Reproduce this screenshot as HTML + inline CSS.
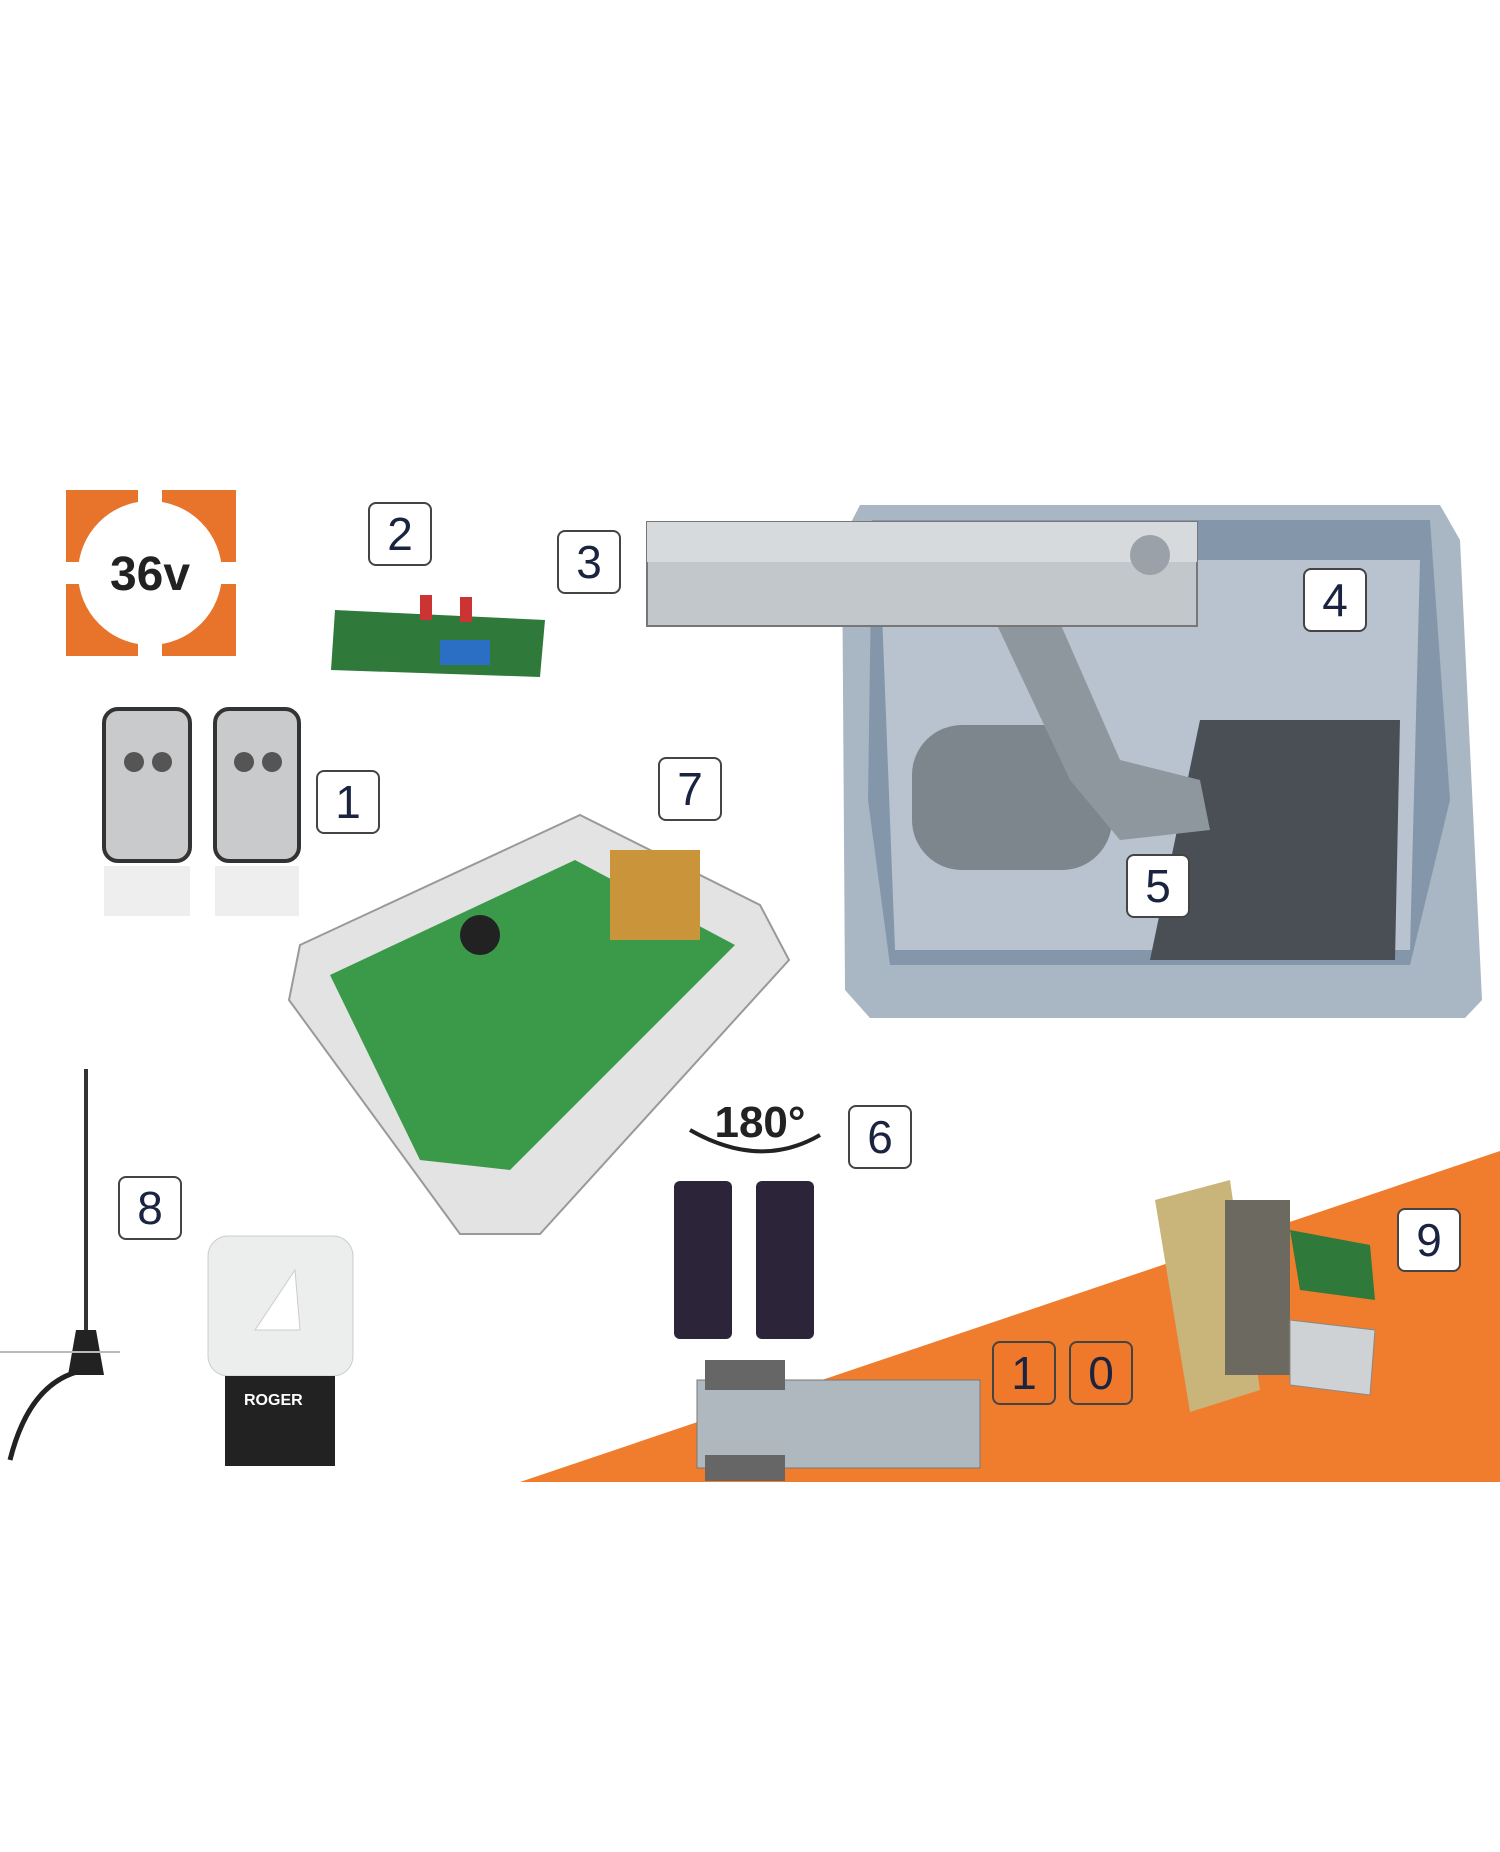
<!DOCTYPE html>
<html><head><meta charset="utf-8"><style>
html,body{margin:0;padding:0;background:#fff;}
#c{position:relative;width:1500px;height:1852px;overflow:hidden;background:#fff;font-family:"Liberation Sans",sans-serif;}
.lb{position:absolute;width:64px;height:64px;border:2px solid #444;border-radius:8px;background:#fff;box-sizing:border-box;color:#1a2340;font-size:46px;line-height:60px;text-align:center;}
.lb.o{background:#f0782a;}
.a{position:absolute;}
</style></head><body><div id="c">
<svg class="a" style="left:0;top:0" width="1500" height="1852">
<polygon points="520,1482 1500,1151 1500,1482" fill="#f07d2e"/>
<!-- 36v logo -->
<rect x="66" y="490" width="170" height="166" fill="#e8732b"/>
<circle cx="150" cy="573" r="72" fill="#fff"/>
<rect x="138" y="490" width="24" height="40" fill="#fff"/>
<rect x="138" y="616" width="24" height="40" fill="#fff"/>
<rect x="66" y="562" width="30" height="22" fill="#fff"/>
<rect x="206" y="562" width="30" height="22" fill="#fff"/>
<text x="150" y="590" font-family="Liberation Sans" font-weight="bold" font-size="48" text-anchor="middle" fill="#222">36v</text>
<!-- receiver board -->
<polygon points="335,610 545,620 540,677 331,670" fill="#2f7a3a"/>
<rect x="440" y="640" width="50" height="25" fill="#2a6fc4"/>
<rect x="420" y="595" width="12" height="25" fill="#c33"/><rect x="460" y="597" width="12" height="25" fill="#c33"/>
<!-- remotes -->
<rect x="104" y="709" width="86" height="152" rx="14" fill="#c9cacc" stroke="#333" stroke-width="4"/>
<rect x="215" y="709" width="84" height="152" rx="14" fill="#c9cacc" stroke="#333" stroke-width="4"/>
<circle cx="134" cy="762" r="10" fill="#555"/><circle cx="162" cy="762" r="10" fill="#555"/>
<circle cx="244" cy="762" r="10" fill="#555"/><circle cx="272" cy="762" r="10" fill="#555"/>
<rect x="104" y="866" width="86" height="50" fill="#eee"/><rect x="215" y="866" width="84" height="50" fill="#eee"/>
<!-- gate box -->
<polygon points="860,505 1440,505 1460,540 1482,1000 1465,1018 870,1018 845,990 842,540" fill="#a9b6c4"/>
<polygon points="872,520 1430,520 1450,800 1410,965 890,965 868,800" fill="#8497aa"/>
<polygon points="880,560 1420,560 1410,950 895,950" fill="#b8c3cf"/>
<rect x="912" y="725" width="200" height="145" rx="50" fill="#7d858d"/>
<path d="M1200,720 L1400,720 L1395,960 L1150,960 Z" fill="#4a4f55"/>
<polygon points="990,610 1050,600 1120,760 1200,780 1210,830 1120,840 1070,780" fill="#8e969e"/>
<!-- arm 3 -->
<rect x="647" y="522" width="550" height="104" fill="#c2c7cc" stroke="#777" stroke-width="2"/>
<rect x="647" y="522" width="550" height="40" fill="#d6dadd"/>
<circle cx="1150" cy="555" r="20" fill="#9aa1a8"/>
<!-- controller 7 -->
<polygon points="300,945 580,815 760,905 789,960 540,1234 460,1234 289,1000" fill="#e2e3e2" stroke="#999" stroke-width="2"/>
<polygon points="330,975 575,860 735,945 510,1170 420,1160" fill="#3a9a4a"/>
<rect x="610" y="850" width="90" height="90" fill="#c9943a"/>
<circle cx="480" cy="935" r="20" fill="#222"/>
<!-- antenna -->
<line x1="86" y1="1069" x2="86" y2="1330" stroke="#333" stroke-width="4"/>
<polygon points="76,1330 96,1330 104,1375 68,1375" fill="#222"/>
<path d="M85,1370 Q30,1380 10,1460" stroke="#222" stroke-width="5" fill="none"/>
<line x1="0" y1="1352" x2="120" y2="1352" stroke="#bbb" stroke-width="2"/>
<!-- lamp -->
<rect x="208" y="1236" width="145" height="140" rx="20" fill="#eceded" stroke="#ccc"/>
<polygon points="255,1330 295,1270 300,1330" fill="#fff" stroke="#ccc"/>
<rect x="225" y="1376" width="110" height="90" fill="#222"/>
<!-- photocells -->
<rect x="674" y="1181" width="58" height="158" rx="6" fill="#2c2438"/>
<rect x="756" y="1181" width="58" height="158" rx="6" fill="#2c2438"/>
<text x="760" y="1137" font-family="Liberation Sans" font-weight="bold" font-size="44" text-anchor="middle" fill="#222">180°</text>
<path d="M690,1130 Q760,1170 820,1135" stroke="#222" stroke-width="4" fill="none"/>
<!-- magnetic lock 9 -->
<polygon points="1155,1200 1230,1180 1260,1390 1190,1412" fill="#c9b57a"/>
<rect x="1225" y="1200" width="65" height="175" fill="#6c6a60"/>
<polygon points="1290,1230 1370,1245 1375,1300 1300,1290" fill="#2f7a3a"/>
<polygon points="1290,1320 1375,1330 1370,1395 1290,1385" fill="#cfd2d5" stroke="#888"/>
<!-- bracket 10 -->
<rect x="697" y="1380" width="283" height="88" fill="#b0b8bf" stroke="#777"/>
<rect x="705" y="1360" width="80" height="30" fill="#666"/>
<rect x="705" y="1455" width="80" height="26" fill="#666"/>
</svg>
<div class="lb" style="left:368px;top:502px">2</div>
<div class="lb" style="left:557px;top:530px">3</div>
<div class="lb" style="left:1303px;top:568px">4</div>
<div class="lb" style="left:316px;top:770px">1</div>
<div class="lb" style="left:658px;top:757px">7</div>
<div class="lb" style="left:1126px;top:854px">5</div>
<div class="lb" style="left:848px;top:1105px">6</div>
<div class="lb" style="left:118px;top:1176px">8</div>
<div class="lb" style="left:1397px;top:1208px">9</div>
<div class="lb o" style="left:992px;top:1341px">1</div>
<div class="lb o" style="left:1069px;top:1341px">0</div>
<div class="a" style="left:244px;top:1392px;color:#fff;font-size:16px;font-weight:bold">ROGER</div>
</div></body></html>
